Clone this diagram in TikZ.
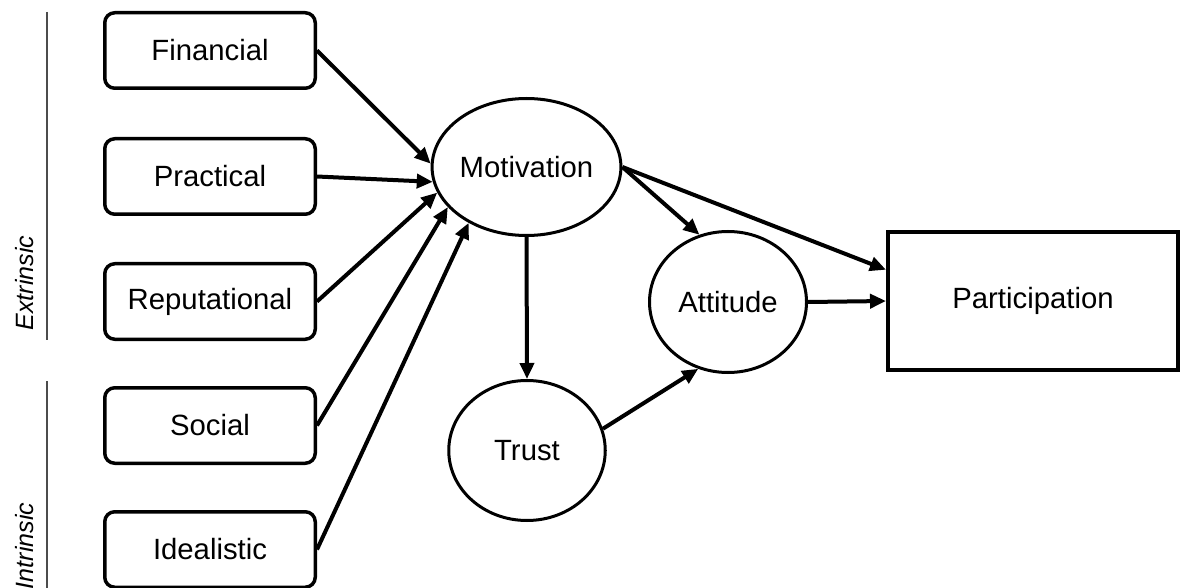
\documentclass[tikz,border=0pt]{standalone}
\usepackage{fontspec}
\setmainfont{Liberation Sans}
\usetikzlibrary{shapes.geometric,arrows.meta}
\begin{document}
\begin{tikzpicture}[x=1pt,y=-1pt,
  label font/.style={font=\fontsize{29.3}{34}\selectfont},
  factor/.style={draw, line width=3.5pt, rounded corners=10pt,
    minimum width=210.5pt, minimum height=75.5pt, inner sep=0pt, label font},
  construct/.style={draw, ellipse, line width=3pt, inner sep=0pt, label font},
  outcome/.style={draw, rectangle, line width=4pt, inner sep=0pt,
    minimum width=290pt, minimum height=138pt, label font},
  link/.style={line width=4pt, -{Triangle[length=16pt,width=14pt]}},
  group line/.style={draw, line width=1.2pt, black!70},
  group name/.style={rotate=90, font=\fontsize{25}{30}\selectfont\itshape}
]
\path[use as bounding box] (0,0) rectangle (1181,588);

% motivation sources
\node[factor] (fin) at (210,50.5) {Financial};
\node[factor] (pra) at (210,176.5) {Practical};
\node[factor] (rep) at (210,301.5) {Reputational};
\node[factor] (soc) at (210,425.5) {Social};
\node[factor] (ide) at (210,549.5) {Idealistic};

% grouping of the sources
\coordinate (ext top) at (47,12);
\coordinate (ext bot) at (47,340);
\coordinate (int top) at (47,381);
\coordinate (int bot) at (47,588);
\draw[group line] (ext top) -- (ext bot);
\draw[group line] (int top) -- (int bot);
\node[group name] (ext) at (25,283) {Extrinsic};
\node[group name] (int) at (25,546) {Intrinsic};

% constructs
\node[construct, minimum width=154pt, minimum height=137pt] (mot) at (526.5,167) {Motivation};
\node[construct, minimum width=157pt, minimum height=141pt] (att) at (728,302) {Attitude};
\node[construct, minimum width=156.5pt, minimum height=140pt] (tru) at (527,450.5) {Trust};
\node[outcome] (par) at (1033,301) {Participation};

% paths
\draw[link] (fin.east) -- (mot.178);
\draw[link] (pra.east) -- (mot.189);
\draw[link] (rep.east) -- (mot.196);
\draw[link] (soc.east) -- (mot.207);
\draw[link] (ide.east) -- (mot.224);
\draw[link] (mot.south) -- (tru.north);
\draw[link] (mot.east) -- (att.113);
\draw[link] (mot.east) -- (par.168);
\draw[link] (att.east) -- (par.west);
\draw[link] (tru.16) -- (att.246);
\end{tikzpicture}
\end{document}
